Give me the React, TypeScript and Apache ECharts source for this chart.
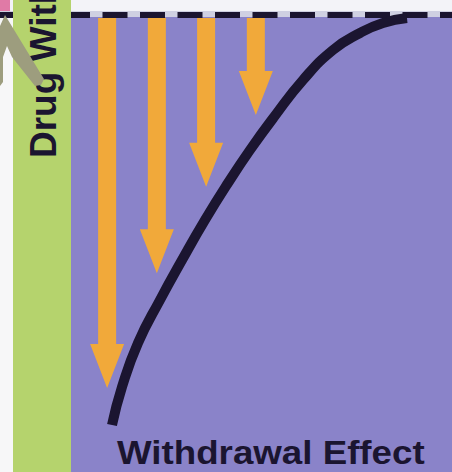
import React, { useEffect, useRef } from "react";
import * as echarts from "echarts";

// Withdrawal curve (x: time units 0-100, y: effect below the drug baseline, 0 to -100)
const curveX = [24.78, 26.99, 30.53, 35.4, 40.27, 45.35, 50.44, 55.31, 60.62, 67.04, 73.67, 79.65, 84.73, 90.04];
const curveY = [-89.72, -81.4, -71.77, -62.36, -53.61, -44.86, -36.76, -29.54, -22.32, -14.22, -7.66, -3.94, -1.75, -0.66];
// Downward arrows: position and depth
const arrowX = [23.7, 34.7, 45.6, 56.6];
const arrowTip = [-81.6, -56.5, -37.6, -21.9];
// Baseline (dashed)
const baselineX = [0, 100];
const baselineY = [0, 0];
const titleBottom = "Withdrawal Effect";
const titleLeft = "Drug Withdrawal";

const PURPLE = "#8a83c9";
const GREEN = "#b5d36d";
const ORANGE = "#f1a93a";
const INK = "#1b1530";

export default function App() {
  const ref = useRef<HTMLDivElement>(null);
  useEffect(() => {
    if (!ref.current) return;
    const chart = echarts.init(ref.current, undefined, { renderer: "svg" });
    const option = {
      animation: false,
      backgroundColor: "#ffffff",
      grid: { left: 0, right: 0, top: 15, bottom: 0 },
      xAxis: { type: "value", min: 0, max: 100, show: false },
      yAxis: { type: "value", min: -100, max: 0, show: false },
      graphic: [
        { type: "rect", z: -10, shape: { x: 0, y: 0, width: 452, height: 11 }, style: { fill: "#f3f3f8" } },
        { type: "rect", z: -10, shape: { x: 0, y: 11, width: 452, height: 7 }, style: { fill: "#cfd0e2" } },
        { type: "rect", z: -10, shape: { x: 0, y: 17, width: 13, height: 455 }, style: { fill: "#f7f7f8" } },
        { type: "rect", z: -10, shape: { x: 71, y: 17, width: 381, height: 455 }, style: { fill: PURPLE } },
        { type: "rect", z: 5, shape: { x: 13, y: 0, width: 58, height: 472 }, style: { fill: GREEN } },
        { type: "rect", z: 5, shape: { x: 0, y: 0, width: 10, height: 11 }, style: { fill: "#e07aa6" } },
        {
          type: "text",
          z: 6,
          x: 43,
          y: 158,
          rotation: Math.PI / 2,
          style: {
            text: titleLeft,
            font: 'bold 37px "Liberation Sans", Arial, sans-serif',
            fill: INK,
            align: "left",
            verticalAlign: "middle",
            textAlign: "left",
            textVerticalAlign: "middle",
          },
        },
        {
          type: "polygon",
          z: 7,
          shape: {
            points: [[5, 15], [44, 79], [41, 85], [35, 86], [12, 57], [7, 46], [3, 57], [3, 82], [0, 86], [0, 26]],
          },
          style: { fill: "#9d9d7e" },
        },
        {
          type: "text",
          z: 6,
          x: 117,
          y: 452,
          scaleX: 1.08,
          style: {
            text: titleBottom,
            font: 'bold 34px "Liberation Sans", Arial, sans-serif',
            fill: INK,
            align: "left",
            verticalAlign: "middle",
            textAlign: "left",
            textVerticalAlign: "middle",
          },
        },
      ],
      series: [
        {
          type: "line",
          clip: false,
          z: 3,
          symbol: "none",
          data: baselineX.map((x, i) => [x, baselineY[i]]),
          lineStyle: { color: INK, width: 6, type: [25, 12.5], dashOffset: 9.5, cap: "butt" },
        },
        {
          type: "custom",
          z: 2,
          clip: false,
          data: arrowX.map((x, i) => [x, arrowTip[i]]),
          renderItem: (params: any, api: any) => {
            const x = api.value(0);
            const tip = api.value(1);
            const top = api.coord([x, 0]);
            const end = api.coord([x, tip]);
            const cx = top[0];
            const y0 = top[1] + 3;
            const y1 = end[1];
            const sw = 9;
            const hw = 17;
            const hh = 44;
            return {
              type: "polygon",
              shape: {
                points: [
                  [cx - sw, y0],
                  [cx + sw, y0],
                  [cx + sw, y1 - hh],
                  [cx + hw, y1 - hh],
                  [cx, y1],
                  [cx - hw, y1 - hh],
                  [cx - sw, y1 - hh],
                ],
              },
              style: { fill: ORANGE },
            };
          },
        },
        {
          type: "line",
          clip: false,
          z: 4,
          symbol: "none",
          smooth: 0.5,
          data: curveX.map((x, i) => [x, curveY[i]]),
          lineStyle: { color: INK, width: 10, cap: "butt" },
        },
      ],
    };
    chart.setOption(option as any);
    return () => chart.dispose();
  }, []);
  return <div ref={ref} style={{ position: "fixed", left: 0, top: 0, width: 452, height: 472 }} />;
}
